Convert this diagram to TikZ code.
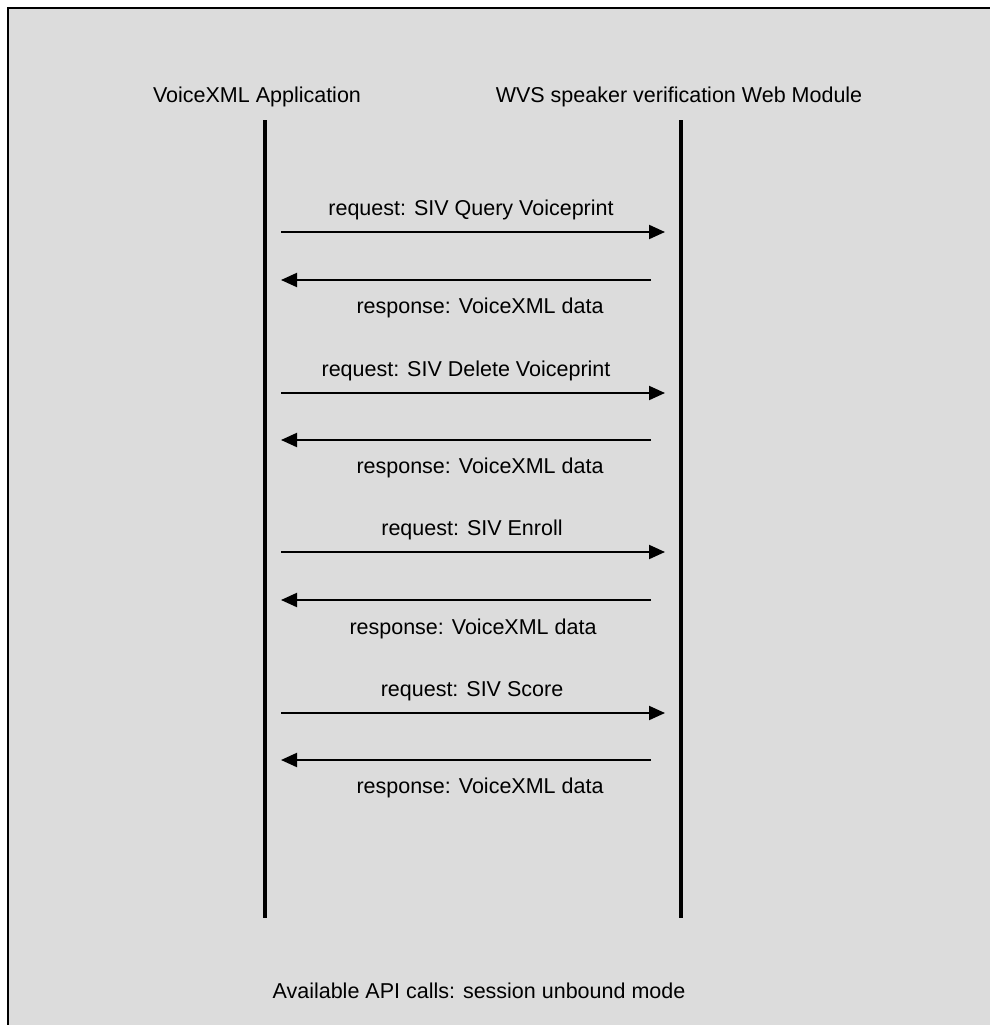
\documentclass[tikz,border=0pt]{standalone}
\usepackage{fontspec}
\setmainfont{Liberation Sans}
\usetikzlibrary{arrows.meta}
\definecolor{panel}{RGB}{220,220,220}

\begin{document}
\begin{tikzpicture}[x=1pt,y=-1pt,
	lifeline/.style={line width=4pt},
	msg/.style={line width=2pt,-{Triangle[length=16pt,width=14pt]}},
	lbl/.style={font=\fontsize{21.5}{26}\selectfont,inner sep=0pt,anchor=base}]
	\useasboundingbox (0,0) rectangle (990,1025);
	\clip (0,0) rectangle (990,1025);
	\fill[white] (0,0) rectangle (990,1025);
	\draw[line width=2pt,fill=panel] (8,8) rectangle (1010,1040);

	\node[lbl] (app) at (257,102) {VoiceXML Application};
	\node[lbl] (wvs) at (679,102) {WVS speaker verification Web Module};

	\coordinate (apptop) at (265,120);
	\coordinate (appbot) at (265,918);
	\coordinate (wvstop) at (681,120);
	\coordinate (wvsbot) at (681,918);
	\draw[lifeline] (apptop) -- (appbot);
	\draw[lifeline] (wvstop) -- (wvsbot);

	% query voiceprint
	\coordinate (q1) at (281,232);  \coordinate (q2) at (665,232);
	\coordinate (r1) at (651,280);  \coordinate (r2) at (281,280);
	\draw[msg] (q1) -- (q2);
	\draw[msg] (r1) -- (r2);
	\node[lbl] (query) at (471,215) {request: SIV Query Voiceprint};
	\node[lbl] (resp1) at (480,313) {response: VoiceXML data};

	% delete voiceprint
	\coordinate (d1) at (281,393);  \coordinate (d2) at (665,393);
	\coordinate (s1) at (651,440);  \coordinate (s2) at (281,440);
	\draw[msg] (d1) -- (d2);
	\draw[msg] (s1) -- (s2);
	\node[lbl] (delete) at (466,376) {request: SIV Delete Voiceprint};
	\node[lbl] (resp2) at (480,473) {response: VoiceXML data};

	% enroll
	\coordinate (e1) at (281,552);  \coordinate (e2) at (665,552);
	\coordinate (t1) at (651,600);  \coordinate (t2) at (281,600);
	\draw[msg] (e1) -- (e2);
	\draw[msg] (t1) -- (t2);
	\node[lbl] (enroll) at (472,535) {request: SIV Enroll};
	\node[lbl] (resp3) at (473,634) {response: VoiceXML data};

	% score
	\coordinate (c1) at (281,713);  \coordinate (c2) at (665,713);
	\coordinate (u1) at (651,760);  \coordinate (u2) at (281,760);
	\draw[msg] (c1) -- (c2);
	\draw[msg] (u1) -- (u2);
	\node[lbl] (score) at (472,696) {request: SIV Score};
	\node[lbl] (resp4) at (480,793) {response: VoiceXML data};

	\node[lbl] (caption) at (479,998) {Available API calls: session unbound mode};
\end{tikzpicture}
\end{document}
